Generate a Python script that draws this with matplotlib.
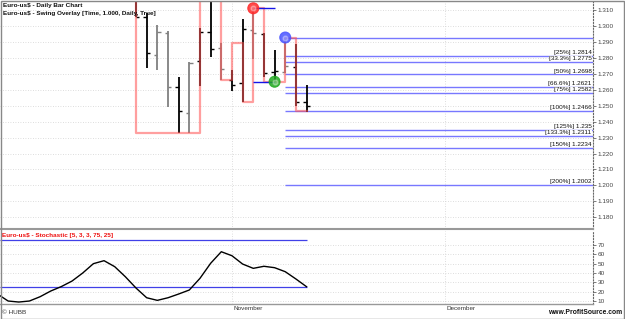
import numpy as np
import matplotlib.pyplot as plt

plt.rcParams['font.family'] = ['Liberation Sans', 'DejaVu Sans']

# daily bars (bar index 0 = first bar visible in the price panel)
bar_open = [1.3180, 1.3057, 1.2820, 1.2960, 1.2619, 1.2453, 1.2782, 1.2963, 1.2862,
            1.2663, 1.2642, 1.2977, 1.2952, 1.2715, 1.2715, 1.2747, 1.2523]
bar_high = [1.3200, 1.3082, 1.3009, 1.2973, 1.2684, 1.2774, 1.2988, 1.3185, 1.2894,
            1.2726, 1.3047, 1.3114, 1.2957, 1.2852, 1.2925, 1.2892, 1.2631]
bar_low = [1.3056, 1.2736, 1.2726, 1.2495, 1.2328, 1.2328, 1.2625, 1.2806, 1.2663,
           1.2596, 1.2526, 1.2793, 1.2680, 1.2652, 1.2709, 1.2501, 1.2464]
bar_close = [1.3059, 1.2831, 1.2967, 1.2619, 1.2468, 1.2768, 1.2967, 1.2856, 1.2730,
             1.2631, 1.2982, 1.2957, 1.2709, 1.2719, 1.2751, 1.2526, 1.2501]
bar_color = ['k', 'k', 'gray', 'gray', 'k', 'gray', 'k', 'k', 'gray',
             'k', 'k', 'gray', 'k', 'k', 'gray', 'k', 'k']

# swing overlay (step line, changes at bar index)
swing_x = [-1, 0, 6, 8, 9, 10, 11, 12, 14, 15, 16]
swing_y = [1.325, 1.2328, 1.325, 1.2663, 1.2896, 1.2526, 1.3114, 1.2652, 1.2930, 1.2466, 1.2466]

# swing points
pt_x = [11, 13, 14]
pt_y = [1.3114, 1.2652, 1.2930]
pt_col = ['#ff2a2a', '#22aa22', '#4a55ff']

# projection levels
fib_pct = ['25%', '33.3%', '50%', '66.6%', '75%', '100%', '125%', '133.3%', '150%', '200%']
fib_val = [1.2814, 1.2775, 1.2698, 1.2621, 1.2582, 1.2466, 1.235, 1.2311, 1.2234, 1.2002]
fib_zero = 1.2930

# stochastic, bar index -13 .. 16
stoch_x = list(range(-13, 17))
stoch_k = [17.5, 10.0, 8.9, 10.0, 14.6, 20.7, 25.5, 31.4, 40.0, 50.0, 53.2, 46.8, 36.0,
           23.9, 13.5, 10.7, 13.5, 17.5, 21.8, 34.3, 50.4, 62.8, 58.5, 49.6, 45.0,
           47.2, 45.7, 41.4, 33.6, 25.3]

month_x = [9, 29]
month_lab = ['November', 'December']

W, H = 625, 319
fig = plt.figure(figsize=(W / 100, H / 100), dpi=100)
ax = fig.add_axes([0, (H - 229) / H, 593 / W, 228 / H])
ax2 = fig.add_axes([0, (H - 304) / H, 593 / W, 73 / H], sharex=ax)

x0, x1 = -12.76, 42.87
ax.set_xlim(x0, x1)
ax.set_ylim(1.17258, 1.31597)
ax2.set_ylim(6.8, 85.0)

fs = 4.6
for a in (ax, ax2):
    for s in ('top', 'left'):
        a.spines[s].set_visible(False)
    a.spines['right'].set_linestyle(':')
    a.spines['right'].set_color('#666666')
    a.spines['right'].set_linewidth(0.8)
    a.spines['bottom'].set_color('#999999')
    a.spines['bottom'].set_linewidth(1.5)
    a.yaxis.tick_right()
    a.tick_params(axis='y', length=2, width=0.6, color='#666666', pad=1.5,
                  labelsize=fs, labelcolor='#444444')
    a.tick_params(axis='x', length=0, labelbottom=False)
    a.grid(axis='y', color='#d2d2d2', linestyle=(0, (1, 2)), linewidth=0.6)
    for mx in month_x:
        a.axvline(mx, color='#d2d2d2', linestyle=(0, (1, 2)), linewidth=0.6, zorder=0)

ax.set_yticks(np.arange(1.18, 1.3101, 0.01))
ax.set_yticklabels(['%.3f' % v for v in np.arange(1.18, 1.3101, 0.01)])
ax2.set_yticks(range(10, 71, 10))
ax2.set_xticks([])

# bars
xs = np.arange(len(bar_open))
ax.vlines(xs, bar_low, bar_high, colors=bar_color, linewidth=1.3, zorder=3)
ax.hlines(bar_open, xs - 0.3, xs, colors=bar_color, linewidth=1.0, zorder=3)
ax.hlines(bar_close, xs, xs + 0.3, colors=bar_color, linewidth=1.0, zorder=3)

# swing overlay
ax.step(swing_x, swing_y, where='post', color='#ff5050', alpha=0.55, linewidth=1.6, zorder=4)

# projection lines + labels
ax.hlines([fib_zero] + fib_val, 14, x1, colors='#7878ff', linewidth=1.0, zorder=2)
for p, v in zip(fib_pct, fib_val):
    ax.annotate('[%s] %s' % (p, v), (x1, v), xytext=(-1, 0.6), textcoords='offset points',
                ha='right', va='bottom', fontsize=fs, color='#111111', zorder=5,
                bbox=dict(boxstyle='square,pad=0', fc='white', ec='none'))

ax.hlines(pt_y[0], pt_x[0], 13, colors='#1515e8', linewidth=1.0, zorder=4)
ax.hlines(pt_y[1], pt_x[0], 13, colors='#1515e8', linewidth=1.0, zorder=4)
ax.scatter(pt_x, pt_y, s=62, c=pt_col, edgecolors=pt_col, linewidths=0.8, alpha=0.85, zorder=6)
ax.scatter(pt_x, pt_y, s=12, c='white', alpha=0.3, zorder=7)

# stochastic
ax2.hlines([75, 25], x0, 16, colors='#4040e8', linewidth=0.9, zorder=2)
ax2.plot(stoch_x, stoch_k, color='black', linewidth=1.0, zorder=3)
ax2.set_xlim(x0, x1)
ax2.spines['bottom'].set_linewidth(1.0)

for mx, ml in zip(month_x, month_lab):
    ax2.annotate(ml, (mx, 6.8), xytext=(1, -1.5), textcoords='offset points',
                 ha='left', va='top', fontsize=fs, color='#333333')

# texts
fig.text(3 / W, 1 - 5 / H, 'Euro-us$ - Daily Bar Chart', fontsize=fs, color='#111111',
         va='center', fontweight='bold')
fig.text(3 / W, 1 - 13 / H, 'Euro-us$ - Swing Overlay [Time, 1.000, Daily, True]',
         fontsize=fs, color='#111111', va='center', fontweight='bold')
fig.text(2 / W, 1 - 235 / H, 'Euro-us$ - Stochastic [5, 3, 3, 75, 25]', fontsize=fs,
         color='#ee1111', va='center', fontweight='bold')
fig.text(2 / W, 1 - 313 / H, '\u00a9 HUBB', fontsize=fs, color='#333333', va='center')
fig.text(622 / W, 1 - 313 / H, 'www.ProfitSource.com', fontsize=fs + 0.3, color='#111111',
         va='center', ha='right', fontweight='bold')

# frame
fig.add_artist(plt.Rectangle((0.5 / W, 0.5 / H), 1 - 1.5 / W, 1 - 1.5 / H,
                             transform=fig.transFigure, fill=False, ec='#888888', lw=1.0))

fig.savefig('out.png', dpi=100)
